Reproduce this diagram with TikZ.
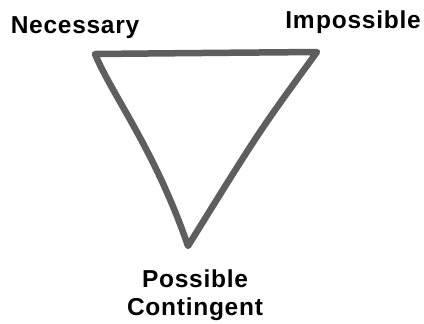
\documentclass[tikz,border=0pt]{standalone}
\usepackage{fontspec}
\setmainfont{Liberation Sans}
\definecolor{pen}{HTML}{5E5E5E}
\tikzset{
  lbl/.style={font=\fontsize{24.5bp}{28bp}\selectfont\bfseries\addfontfeature{LetterSpace=3}, text=black, inner sep=0pt, anchor=base},
  stroke/.style={draw=pen, line width=6.5bp, line join=round, line cap=round}
}
\begin{document}
\begin{tikzpicture}[x=1bp,y=-1bp]
\useasboundingbox (0,0) rectangle (424,324);
\coordinate (tl) at (95,54);
\coordinate (tr) at (317,52);
\coordinate (bt) at (188,246);
\node[lbl] (nec) at (75,33) {Necessary};
\node[lbl] (imp) at (353,28) {Im\kern1.5bp possible};
\node[lbl] (pos) at (195,287) {Possible};
\node[lbl] (con) at (195,315) {Contingent};
\draw[stroke] (tl) .. controls (200,53) .. (tr)
  .. controls (260,130) .. (bt)
  .. controls (155,150) and (112,95) .. cycle;
\end{tikzpicture}
\end{document}
